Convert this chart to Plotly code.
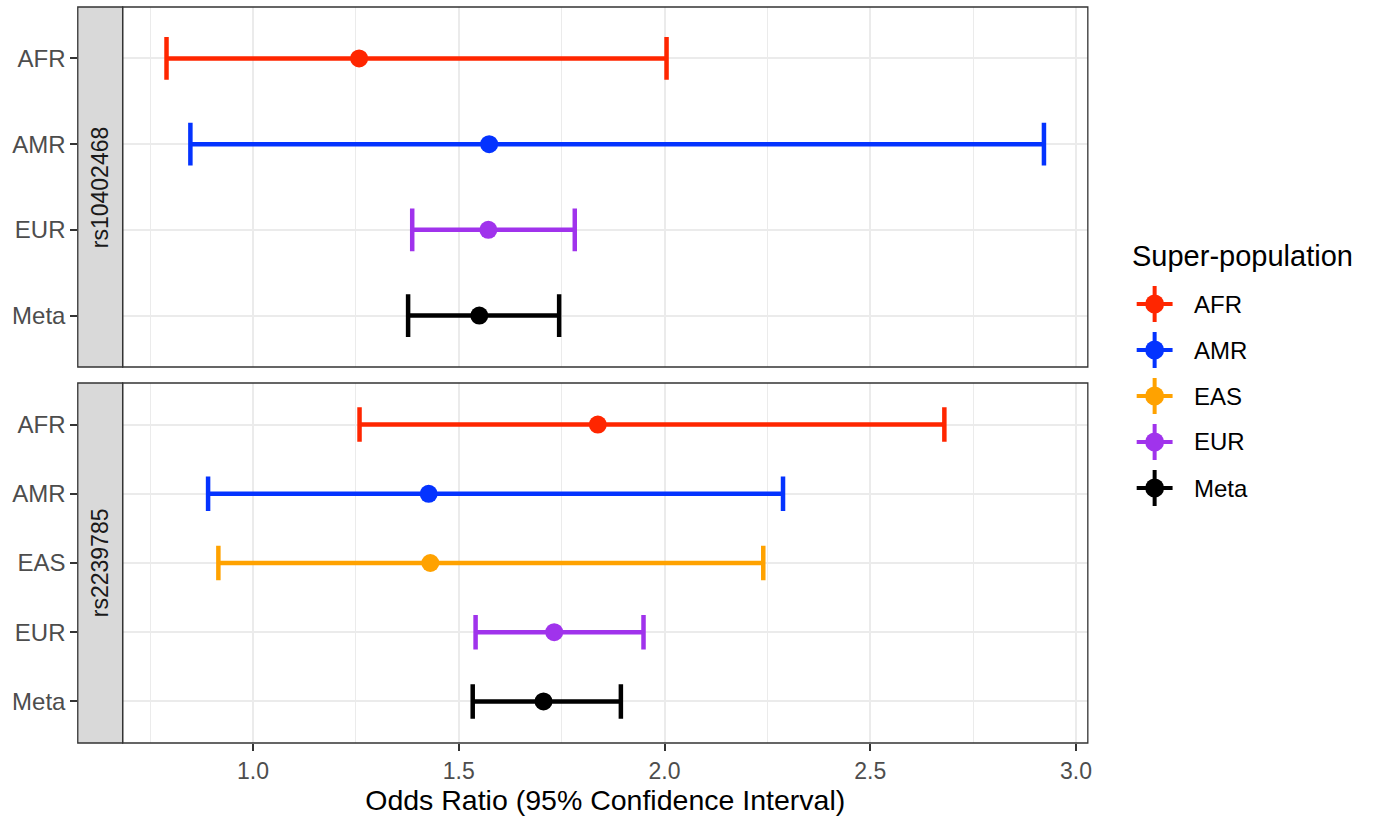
import plotly.graph_objects as go

W, H = 1375, 816

# ---------------- data ----------------
snps = ["rs10402468", "rs2239785"]
pops_1 = ["AFR", "AMR", "EUR", "Meta"]
or_1 = [1.258, 1.574, 1.572, 1.550]
lo_1 = [0.790, 0.848, 1.387, 1.377]
hi_1 = [2.005, 2.922, 1.782, 1.744]

pops_2 = ["AFR", "AMR", "EAS", "EUR", "Meta"]
or_2 = [1.838, 1.427, 1.431, 1.732, 1.706]
lo_2 = [1.259, 0.891, 0.916, 1.541, 1.534]
hi_2 = [2.680, 2.288, 2.240, 1.949, 1.894]

legend_pops = ["AFR", "AMR", "EAS", "EUR", "Meta"]
colors = {"AFR": "#FF2600", "AMR": "#0433FF", "EAS": "#FFA200",
          "EUR": "#A033EC", "Meta": "#000000"}

x_ticks = [1.0, 1.5, 2.0, 2.5, 3.0]
x_title = "Odds Ratio (95% Confidence Interval)"
legend_title = "Super-population"

FONT = "Liberation Sans, Arial, sans-serif"

def fx(p):
    return p / W

def fy(p):
    return 1 - p / H

panels = [
    dict(snp=snps[0], pops=pops_1, orv=or_1, lo=lo_1, hi=hi_1, top=7, bot=367),
    dict(snp=snps[1], pops=pops_2, orv=or_2, lo=lo_2, hi=hi_2, top=383, bot=743),
]

all_lo = lo_1 + lo_2
all_hi = hi_1 + hi_2
pad = 0.05 * (max(all_hi) - min(all_lo))
xrange = [min(all_lo) - pad, max(all_hi) + pad]

panel_left, panel_right = 123, 1091
strip_left = 78

fig = go.Figure()
shapes = []
annotations = []

for i, p in enumerate(panels):
    ax = "" if i == 0 else str(i + 1)
    n = len(p["pops"])
    unit_px = (p["bot"] - p["top"]) / (n - 1 + 1.2)
    cap = 0.25 * unit_px
    for j, pop in enumerate(p["pops"]):
        fig.add_trace(go.Scatter(
            x=[p["orv"][j]], y=[pop], mode="markers",
            xaxis="x" + ax, yaxis="y" + ax,
            marker=dict(size=18, color=colors[pop], line=dict(width=0)),
            error_x=dict(type="data", symmetric=False,
                         array=[p["hi"][j] - p["orv"][j]],
                         arrayminus=[p["orv"][j] - p["lo"][j]],
                         color=colors[pop], thickness=4.5, width=cap),
            showlegend=False, hoverinfo="x+y",
        ))
    xdom = [fx(panel_left), fx(panel_right)]
    ydom = [fy(p["bot"]), fy(p["top"])]
    is_bottom = (i == len(panels) - 1)
    xa = dict(domain=xdom, anchor="y" + ax, range=xrange,
              tickvals=x_ticks, ticktext=[f"{v:.1f}" for v in x_ticks],
              showgrid=True, gridcolor="#EBEBEB", gridwidth=2,
              minor=dict(dtick=0.25, tick0=0.75, showgrid=True,
                         gridcolor="#EBEBEB", gridwidth=1),
              zeroline=False, showline=False,
              showticklabels=is_bottom,
              ticks="outside" if is_bottom else "",
              ticklen=7, tickwidth=1.5, tickcolor="#333333",
              tickfont=dict(family=FONT, size=23, color="#4D4D4D"))
    if is_bottom:
        xa["title"] = dict(text=x_title, font=dict(family=FONT, size=28.5, color="#000000"),
                           standoff=7)
    ya = dict(domain=ydom, anchor="free", position=fx(strip_left - 0.5),
              type="category", categoryarray=p["pops"],
              range=[n - 0.4, -0.6],
              showgrid=True, gridcolor="#EBEBEB", gridwidth=2,
              zeroline=False, showline=False,
              ticks="outside", ticklen=7, tickwidth=1.5, tickcolor="#333333",
              tickfont=dict(family=FONT, size=24, color="#4D4D4D"))
    fig.layout["xaxis" + ax] = xa
    fig.layout["yaxis" + ax] = ya

    # panel border
    shapes.append(dict(type="rect", xref="paper", yref="paper",
                       x0=fx(panel_left), x1=fx(panel_right),
                       y0=fy(p["bot"]), y1=fy(p["top"]),
                       line=dict(color="#333333", width=1.3), layer="above"))
    # strip
    shapes.append(dict(type="rect", xref="paper", yref="paper",
                       x0=fx(strip_left), x1=fx(panel_left),
                       y0=fy(p["bot"]), y1=fy(p["top"]),
                       fillcolor="#D9D9D9",
                       line=dict(color="#333333", width=1.3), layer="above"))
    annotations.append(dict(xref="paper", yref="paper",
                            x=fx((strip_left + panel_left) / 2),
                            y=fy((p["top"] + p["bot"]) / 2),
                            text=p["snp"], textangle=-90, showarrow=False,
                            xanchor="center", yanchor="middle",
                            font=dict(family=FONT, size=23, color="#1A1A1A")))

# ---------------- manual legend ----------------
annotations.append(dict(xref="paper", yref="paper", x=fx(1133), y=fy(256),
                        text=legend_title, showarrow=False,
                        xanchor="left", yanchor="middle",
                        font=dict(family=FONT, size=29, color="#000000")))
key_cx = 1158
for k, pop in enumerate(legend_pops):
    cy = 304 + 46 * k
    c = colors[pop]
    shapes.append(dict(type="line", xref="paper", yref="paper",
                       x0=fx(key_cx - 18), x1=fx(key_cx + 18), y0=fy(cy), y1=fy(cy),
                       line=dict(color=c, width=4)))
    shapes.append(dict(type="line", xref="paper", yref="paper",
                       x0=fx(key_cx), x1=fx(key_cx), y0=fy(cy - 18), y1=fy(cy + 18),
                       line=dict(color=c, width=4)))
    shapes.append(dict(type="circle", xref="paper", yref="paper",
                       x0=fx(key_cx - 9.5), x1=fx(key_cx + 9.5),
                       y0=fy(cy + 9.5), y1=fy(cy - 9.5),
                       fillcolor=c, line=dict(width=0)))
    annotations.append(dict(xref="paper", yref="paper", x=fx(1195), y=fy(cy),
                            text=pop, showarrow=False,
                            xanchor="left", yanchor="middle",
                            font=dict(family=FONT, size=24, color="#000000")))

fig.update_layout(
    width=W, height=H,
    margin=dict(l=0, r=0, t=0, b=0),
    paper_bgcolor="white", plot_bgcolor="white",
    shapes=shapes, annotations=annotations,
    showlegend=False,
    font=dict(family=FONT),
)

fig.write_html("out.html")
